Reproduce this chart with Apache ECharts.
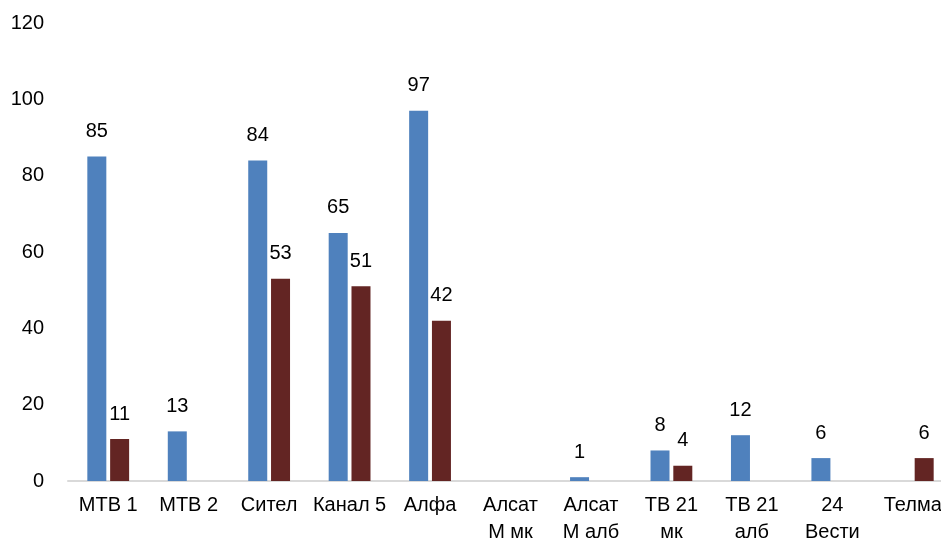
<!DOCTYPE html>
<html><head><meta charset="utf-8">
<script src="https://cdn.jsdelivr.net/npm/echarts@6/dist/echarts.min.js"></script>
<style>html,body{margin:0;padding:0;background:#fff}#c{width:941px;height:548px}</style>
</head><body><div id="c"></div>
<script>
const categories = ['МТВ 1','МТВ 2','Сител','Канал 5','Алфа','Алсат\nМ мк','Алсат\nМ алб','ТВ 21\nмк','ТВ 21\nалб','24\nВести','Телма'];
const seriesBlue = [85, 13, 84, 65, 97, null, 1, 8, 12, 6, null];
const seriesRed = [11, null, 53, 51, 42, null, null, 4, null, null, 6];
const yTicks = {min: 0, max: 120, interval: 20};

const font = 'Liberation Sans';
const chart = echarts.init(document.getElementById('c'), null, {renderer: 'canvas'});
const lbl = {show: true, position: 'top', distance: 15, color: '#000', fontSize: 20, fontFamily: font};
chart.setOption({
  animation: false,
  grid: {left: 68, right: -12, top: 23, bottom: 67, containLabel: false, outerBoundsMode: 'none'},
  xAxis: {
    type: 'category', data: categories,
    axisLine: {lineStyle: {color: '#d9d9d9', width: 2}},
    axisTick: {show: false},
    axisLabel: {color: '#000', fontSize: 20, fontFamily: font, margin: 11, lineHeight: 27, interval: 0}
  },
  yAxis: {
    type: 'value', min: yTicks.min, max: yTicks.max, interval: yTicks.interval,
    axisLine: {show: false}, axisTick: {show: false}, splitLine: {show: false},
    axisLabel: {color: '#000', fontSize: 20, fontFamily: font, margin: 24}
  },
  series: [
    {type: 'bar', data: seriesBlue, barWidth: 19, barGap: '20%', itemStyle: {color: '#4F81BD'}, label: lbl},
    {type: 'bar', data: seriesRed, barWidth: 19, barGap: '20%', itemStyle: {color: '#632523'}, label: lbl}
  ]
});
</script></body></html>
